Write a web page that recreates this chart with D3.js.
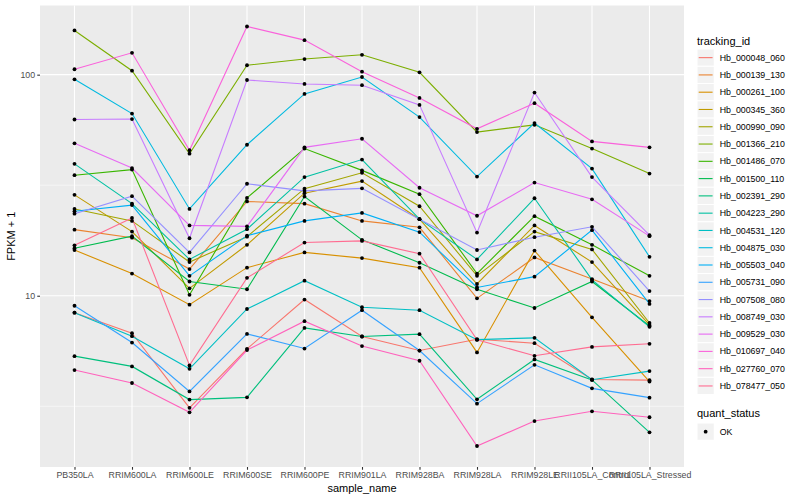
<!DOCTYPE html>
<html>
<head>
<meta charset="utf-8">
<script src="https://cdn.jsdelivr.net/npm/d3@7"></script>
<style>
  html, body { margin: 0; padding: 0; background: #ffffff; }
  svg { display: block; font-family: "Liberation Sans", Arial, Helvetica, sans-serif; }
</style>
</head>
<body>
<svg id="chart" width="800" height="500"></svg>
<script>
// ---------- data ----------
const samples = ["PB350LA", "RRIM600LA", "RRIM600LE", "RRIM600SE", "RRIM600PE", "RRIM901LA",
  "RRIM928BA", "RRIM928LA", "RRIM928LE", "RRII105LA_Control", "RRII105LA_Stressed"];

const trackingIds = ["Hb_000048_060", "Hb_000139_130", "Hb_000261_100", "Hb_000345_360", "Hb_000990_090",
  "Hb_001366_210", "Hb_001486_070", "Hb_001500_110", "Hb_002391_290", "Hb_004223_290",
  "Hb_004531_120", "Hb_004875_030", "Hb_005503_040", "Hb_005731_090", "Hb_007508_080",
  "Hb_008749_030", "Hb_009529_030", "Hb_010697_040", "Hb_027760_070", "Hb_078477_050"];

const seriesColors = ["#F8766D", "#EA8331", "#D89000", "#C09B00", "#A3A500", "#7CAE00", "#39B600",
  "#00BB4E", "#00BF7D", "#00C1A3", "#00BFC4", "#00BAE0", "#00B0F6", "#35A2FF", "#9590FF",
  "#C77CFF", "#E76BF3", "#FA62DB", "#FF62BC", "#FF6C91"];

const Hb_000048_060 = [8.38, 6.77, 3.11, 5.75, 9.61, 6.54, 5.65, 6.36, 6.10, 4.18, 4.15];
const Hb_000139_130 = [19.9, 18.3, 13.2, 26.7, 26.1, 21.8, 20.4, 9.73, 14.9, 11.9, 9.46];
const Hb_000261_100 = [16.1, 12.6, 9.11, 13.4, 15.7, 14.8, 13.4, 5.54, 16.0, 7.99, 4.09];
const Hb_000345_360 = [28.6, 19.5, 10.8, 17.0, 29.1, 33.0, 22.2, 11.3, 20.8, 14.2, 7.38];
const Hb_000990_090 = [24.7, 21.8, 14.2, 18.5, 30.5, 36.0, 25.4, 12.3, 19.5, 16.2, 7.53];
const Hb_001366_210 = [158.5, 104.2, 43.9, 110.3, 117.7, 123.0, 102.5, 55.0, 59.3, 46.3, 35.7];
const Hb_001486_070 = [35.1, 37.2, 10.1, 27.7, 46.3, 36.9, 28.8, 12.6, 22.9, 17.0, 12.3];
const Hb_001500_110 = [16.4, 18.6, 11.6, 10.7, 28.1, 17.9, 14.1, 10.7, 8.80, 11.6, 7.30];
const Hb_002391_290 = [5.33, 4.79, 3.39, 3.47, 7.15, 6.54, 6.70, 3.40, 5.15, 4.16, 2.41];
const Hb_004223_290 = [39.5, 26.1, 14.6, 20.0, 34.4, 41.3, 22.2, 14.6, 27.6, 11.8, 7.23];
const Hb_004531_120 = [8.38, 6.56, 4.67, 8.71, 11.7, 8.87, 8.60, 6.33, 6.45, 4.17, 4.56];
const Hb_004875_030 = [95.3, 66.7, 24.7, 48.2, 81.8, 97.6, 64.3, 34.6, 60.4, 37.6, 15.0];
const Hb_005503_040 = [24.1, 25.7, 12.3, 18.7, 21.8, 23.7, 19.4, 10.9, 12.2, 19.8, 9.18];
const Hb_005731_090 = [9.01, 6.14, 3.69, 6.72, 5.77, 8.60, 5.65, 3.25, 4.87, 3.81, 3.46];
const Hb_007508_080 = [23.5, 28.2, 15.7, 32.1, 29.8, 30.6, 22.2, 16.1, 18.4, 20.5, 10.5];
const Hb_008749_030 = [62.7, 63.0, 18.2, 94.6, 90.8, 89.6, 73.0, 19.3, 83.0, 34.4, 18.8];
const Hb_009529_030 = [48.9, 37.8, 20.8, 20.6, 46.9, 51.3, 30.8, 23.0, 32.5, 27.3, 18.6];
const Hb_010697_040 = [105.8, 125.6, 45.5, 165.2, 143.3, 103.2, 78.5, 56.9, 74.3, 49.9, 46.9];
const Hb_027760_070 = [4.61, 4.03, 2.97, 5.68, 7.67, 5.92, 5.08, 2.09, 2.71, 3.00, 2.82];
const Hb_078477_050 = [16.9, 22.5, 4.84, 12.05, 17.4, 17.7, 15.5, 6.32, 5.35, 5.87, 6.06];

const seriesValues = [Hb_000048_060, Hb_000139_130, Hb_000261_100, Hb_000345_360, Hb_000990_090,
  Hb_001366_210, Hb_001486_070, Hb_001500_110, Hb_002391_290, Hb_004223_290,
  Hb_004531_120, Hb_004875_030, Hb_005503_040, Hb_005731_090, Hb_007508_080,
  Hb_008749_030, Hb_009529_030, Hb_010697_040, Hb_027760_070, Hb_078477_050];

const yTickValues = [10, 100];
const yTickLabels = ["10", "100"];
const quantStatus = ["OK"];

// ---------- layout ----------
const svg = d3.select("#chart");
const panel = { left: 40, right: 684, top: 5.5, bottom: 467 };

const series = trackingIds.map((id, i) => ({
  id, color: seriesColors[i],
  values: seriesValues[i].map((v, j) => ({ sample: samples[j], value: v }))
}));

const allVals = seriesValues.flat();
const lmin = Math.log10(d3.min(allVals)), lmax = Math.log10(d3.max(allVals));
const ex = (lmax - lmin) * 0.05;

const x = d3.scalePoint().domain(samples).range([panel.left, panel.right]).padding(0.6);
const y = d3.scaleLog().domain([Math.pow(10, lmin - ex), Math.pow(10, lmax + ex)])
  .range([panel.bottom, panel.top]);

// panel background
svg.append("rect").attr("x", panel.left).attr("y", panel.top)
  .attr("width", panel.right - panel.left).attr("height", panel.bottom - panel.top)
  .attr("fill", "#EBEBEB");

// minor gridlines (log-midpoints)
const minorVals = [Math.pow(10, 0.5), Math.pow(10, 1.5), Math.pow(10, 2.5)]
  .filter(v => v >= y.domain()[0] && v <= y.domain()[1]);
svg.append("g").selectAll("line").data(minorVals).join("line")
  .attr("x1", panel.left).attr("x2", panel.right)
  .attr("y1", d => y(d)).attr("y2", d => y(d))
  .attr("stroke", "#FFFFFF").attr("stroke-width", 0.55);

// major gridlines
svg.append("g").selectAll("line").data(yTickValues).join("line")
  .attr("x1", panel.left).attr("x2", panel.right)
  .attr("y1", d => y(d)).attr("y2", d => y(d))
  .attr("stroke", "#FFFFFF").attr("stroke-width", 1.1);
svg.append("g").selectAll("line").data(samples).join("line")
  .attr("x1", d => x(d)).attr("x2", d => x(d))
  .attr("y1", panel.top).attr("y2", panel.bottom)
  .attr("stroke", "#FFFFFF").attr("stroke-width", 1.1);

// lines
const line = d3.line().x(d => x(d.sample)).y(d => y(d.value));
svg.append("g").selectAll("path").data(series).join("path")
  .attr("d", d => line(d.values))
  .attr("fill", "none").attr("stroke", d => d.color).attr("stroke-width", 1.1);

// points
svg.append("g").selectAll("g").data(series).join("g")
  .selectAll("circle").data(d => d.values).join("circle")
  .attr("cx", d => x(d.sample)).attr("cy", d => y(d.value)).attr("r", 1.9)
  .attr("fill", "#000000");

// x axis
const xAxis = d3.axisBottom(x).tickSize(2.75).tickPadding(2.2);
const gx = svg.append("g").attr("transform", `translate(0,${panel.bottom})`).call(xAxis);
gx.select(".domain").remove();
gx.selectAll(".tick line").attr("stroke", "#333333").attr("stroke-width", 1.1);
gx.selectAll(".tick text").attr("fill", "#4D4D4D").attr("font-size", "8.8px")
  .attr("font-family", "Liberation Sans, Arial, sans-serif");

// y axis
const yAxis = d3.axisLeft(y).tickValues(yTickValues)
  .tickFormat((d, i) => yTickLabels[i]).tickSize(2.75).tickPadding(2.2);
const gy = svg.append("g").attr("transform", `translate(${panel.left},0)`).call(yAxis);
gy.select(".domain").remove();
gy.selectAll(".tick line").attr("stroke", "#333333").attr("stroke-width", 1.1);
gy.selectAll(".tick text").attr("fill", "#4D4D4D").attr("font-size", "8.8px")
  .attr("font-family", "Liberation Sans, Arial, sans-serif");

// axis titles
svg.append("text").attr("x", (panel.left + panel.right) / 2).attr("y", 492)
  .attr("text-anchor", "middle").attr("font-size", "11px").attr("fill", "#000")
  .text("sample_name");
svg.append("text").attr("transform", `translate(15,${(panel.top + panel.bottom) / 2}) rotate(-90)`)
  .attr("text-anchor", "middle").attr("font-size", "11px").attr("fill", "#000")
  .text("FPKM + 1");

// legend: tracking_id
const lg = svg.append("g").attr("transform", "translate(697,0)");
const keyH = 17.28, keyTop = 49;
lg.append("text").attr("x", 0).attr("y", 44.5).attr("font-size", "11px").attr("fill", "#000")
  .text("tracking_id");
const items = lg.selectAll("g.item").data(series).join("g").attr("class", "item")
  .attr("transform", (d, i) => `translate(0,${keyTop + i * keyH})`);
items.append("rect").attr("width", keyH).attr("height", keyH)
  .attr("fill", "#F2F2F2").attr("stroke", "#FFFFFF").attr("stroke-width", 1);
items.append("line").attr("x1", 1.7).attr("x2", keyH - 1.7)
  .attr("y1", keyH / 2).attr("y2", keyH / 2)
  .attr("stroke", d => d.color).attr("stroke-width", 1.1);
items.append("text").attr("x", keyH + 5.5).attr("y", keyH / 2 + 3.1)
  .attr("font-size", "8.8px").attr("fill", "#000").text(d => d.id);

// legend: quant_status
const lg2 = svg.append("g").attr("transform", "translate(697,0)");
lg2.append("text").attr("x", 0).attr("y", 417).attr("font-size", "11px").attr("fill", "#000")
  .text("quant_status");
const it2 = lg2.selectAll("g.item2").data(quantStatus).join("g").attr("class", "item2")
  .attr("transform", (d, i) => `translate(0,${423 + i * keyH})`);
it2.append("rect").attr("width", keyH).attr("height", keyH)
  .attr("fill", "#F2F2F2").attr("stroke", "#FFFFFF").attr("stroke-width", 1);
it2.append("circle").attr("cx", keyH / 2).attr("cy", keyH / 2).attr("r", 1.9).attr("fill", "#000");
it2.append("text").attr("x", keyH + 5.5).attr("y", keyH / 2 + 3.1)
  .attr("font-size", "8.8px").attr("fill", "#000").text(d => d);
</script>
</body>
</html>
